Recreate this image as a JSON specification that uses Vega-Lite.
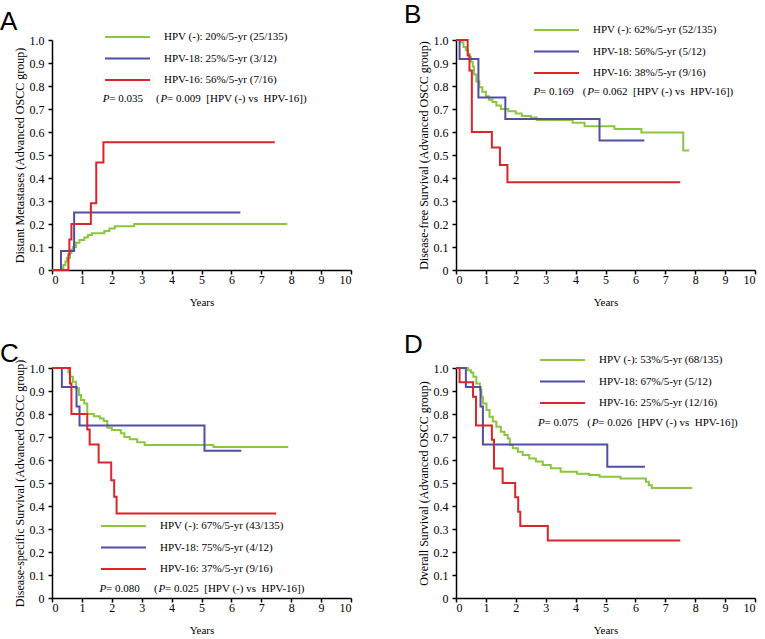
{
  "$schema": "https://vega.github.io/schema/vega-lite/v6.json",
  "background": "white",
  "padding": {"left": 0, "top": 2, "right": 5, "bottom": 5},
  "config": {
    "view": {"stroke": null},
    "axis": {
      "grid": false, "domainColor": "black", "domainWidth": 1.5, "tickColor": "black", "tickWidth": 1.5, "tickSize": 4, "labelOverlap": false,
      "labelFont": "Liberation Serif", "labelFontSize": 12, "labelColor": "black",
      "titleFont": "Liberation Serif", "titleFontSize": 12, "titleFontWeight": "normal", "titleColor": "black"
    },
    "axisX": {"labelPadding": 0, "titlePadding": 11, "titleFontSize": 11},
    "axisY": {"labelPadding": 4, "titlePadding": 3},
    "legend": {
      "orient": "none", "symbolType": "stroke", "symbolSize": 2025, "symbolStrokeWidth": 2, "clipHeight": 20, "rowPadding": 1.5,
      "labelFont": "Liberation Serif", "labelFontSize": 11, "labelColor": "black", "labelOffset": 13, "labelLimit": 400, "title": null
    },
    "title": {"font": "Liberation Sans", "fontSize": 26, "fontWeight": "normal", "color": "black", "anchor": "start", "frame": "group", "dx": -52, "dy": 12},
    "text": {"font": "Liberation Serif", "fontSize": 11, "align": "left", "baseline": "middle", "color": "black"},
    "line": {"interpolate": "step-after", "strokeWidth": 2}
  },
  "datasets": {
    "A": [
      {"series": "HPV (-): 20%/5-yr (25/135)", "t": 0, "v": 0},
      {"series": "HPV (-): 20%/5-yr (25/135)", "t": 0.3, "v": 0.007},
      {"series": "HPV (-): 20%/5-yr (25/135)", "t": 0.38, "v": 0.022},
      {"series": "HPV (-): 20%/5-yr (25/135)", "t": 0.45, "v": 0.037},
      {"series": "HPV (-): 20%/5-yr (25/135)", "t": 0.5, "v": 0.052},
      {"series": "HPV (-): 20%/5-yr (25/135)", "t": 0.6, "v": 0.074},
      {"series": "HPV (-): 20%/5-yr (25/135)", "t": 0.65, "v": 0.089},
      {"series": "HPV (-): 20%/5-yr (25/135)", "t": 0.7, "v": 0.1},
      {"series": "HPV (-): 20%/5-yr (25/135)", "t": 0.8, "v": 0.119},
      {"series": "HPV (-): 20%/5-yr (25/135)", "t": 0.92, "v": 0.13},
      {"series": "HPV (-): 20%/5-yr (25/135)", "t": 1.08, "v": 0.141},
      {"series": "HPV (-): 20%/5-yr (25/135)", "t": 1.2, "v": 0.152},
      {"series": "HPV (-): 20%/5-yr (25/135)", "t": 1.33, "v": 0.16},
      {"series": "HPV (-): 20%/5-yr (25/135)", "t": 1.75, "v": 0.17},
      {"series": "HPV (-): 20%/5-yr (25/135)", "t": 1.92, "v": 0.18},
      {"series": "HPV (-): 20%/5-yr (25/135)", "t": 2.1, "v": 0.19},
      {"series": "HPV (-): 20%/5-yr (25/135)", "t": 2.75, "v": 0.2},
      {"series": "HPV (-): 20%/5-yr (25/135)", "t": 7.87, "v": 0.2},
      {"series": "HPV-18: 25%/5-yr (3/12)", "t": 0, "v": 0},
      {"series": "HPV-18: 25%/5-yr (3/12)", "t": 0.3, "v": 0.083},
      {"series": "HPV-18: 25%/5-yr (3/12)", "t": 0.74, "v": 0.25},
      {"series": "HPV-18: 25%/5-yr (3/12)", "t": 6.3, "v": 0.25},
      {"series": "HPV-16: 56%/5-yr (7/16)", "t": 0, "v": 0},
      {"series": "HPV-16: 56%/5-yr (7/16)", "t": 0.55, "v": 0.067},
      {"series": "HPV-16: 56%/5-yr (7/16)", "t": 0.58, "v": 0.133},
      {"series": "HPV-16: 56%/5-yr (7/16)", "t": 0.65, "v": 0.2},
      {"series": "HPV-16: 56%/5-yr (7/16)", "t": 1.3, "v": 0.29},
      {"series": "HPV-16: 56%/5-yr (7/16)", "t": 1.48, "v": 0.467},
      {"series": "HPV-16: 56%/5-yr (7/16)", "t": 1.72, "v": 0.555},
      {"series": "HPV-16: 56%/5-yr (7/16)", "t": 7.45, "v": 0.555}
    ],
    "B": [
      {"series": "HPV (-): 62%/5-yr (52/135)", "t": 0, "v": 1},
      {"series": "HPV (-): 62%/5-yr (52/135)", "t": 0.15, "v": 0.99},
      {"series": "HPV (-): 62%/5-yr (52/135)", "t": 0.25, "v": 0.97},
      {"series": "HPV (-): 62%/5-yr (52/135)", "t": 0.33, "v": 0.955},
      {"series": "HPV (-): 62%/5-yr (52/135)", "t": 0.4, "v": 0.94},
      {"series": "HPV (-): 62%/5-yr (52/135)", "t": 0.45, "v": 0.925},
      {"series": "HPV (-): 62%/5-yr (52/135)", "t": 0.5, "v": 0.905},
      {"series": "HPV (-): 62%/5-yr (52/135)", "t": 0.56, "v": 0.885},
      {"series": "HPV (-): 62%/5-yr (52/135)", "t": 0.6, "v": 0.85},
      {"series": "HPV (-): 62%/5-yr (52/135)", "t": 0.68, "v": 0.82},
      {"series": "HPV (-): 62%/5-yr (52/135)", "t": 0.78, "v": 0.795},
      {"series": "HPV (-): 62%/5-yr (52/135)", "t": 0.88, "v": 0.775},
      {"series": "HPV (-): 62%/5-yr (52/135)", "t": 1.0, "v": 0.755},
      {"series": "HPV (-): 62%/5-yr (52/135)", "t": 1.1, "v": 0.74},
      {"series": "HPV (-): 62%/5-yr (52/135)", "t": 1.22, "v": 0.73},
      {"series": "HPV (-): 62%/5-yr (52/135)", "t": 1.35, "v": 0.715},
      {"series": "HPV (-): 62%/5-yr (52/135)", "t": 1.5, "v": 0.7},
      {"series": "HPV (-): 62%/5-yr (52/135)", "t": 1.75, "v": 0.69},
      {"series": "HPV (-): 62%/5-yr (52/135)", "t": 2.0, "v": 0.68},
      {"series": "HPV (-): 62%/5-yr (52/135)", "t": 2.2, "v": 0.67},
      {"series": "HPV (-): 62%/5-yr (52/135)", "t": 2.5, "v": 0.663},
      {"series": "HPV (-): 62%/5-yr (52/135)", "t": 2.7, "v": 0.652},
      {"series": "HPV (-): 62%/5-yr (52/135)", "t": 3.9, "v": 0.64},
      {"series": "HPV (-): 62%/5-yr (52/135)", "t": 4.3, "v": 0.625},
      {"series": "HPV (-): 62%/5-yr (52/135)", "t": 5.3, "v": 0.613},
      {"series": "HPV (-): 62%/5-yr (52/135)", "t": 6.2, "v": 0.598},
      {"series": "HPV (-): 62%/5-yr (52/135)", "t": 7.6, "v": 0.52},
      {"series": "HPV (-): 62%/5-yr (52/135)", "t": 7.8, "v": 0.52},
      {"series": "HPV-18: 56%/5-yr (5/12)", "t": 0, "v": 1},
      {"series": "HPV-18: 56%/5-yr (5/12)", "t": 0.12, "v": 0.917},
      {"series": "HPV-18: 56%/5-yr (5/12)", "t": 0.75, "v": 0.75},
      {"series": "HPV-18: 56%/5-yr (5/12)", "t": 1.65, "v": 0.656},
      {"series": "HPV-18: 56%/5-yr (5/12)", "t": 4.8, "v": 0.563},
      {"series": "HPV-18: 56%/5-yr (5/12)", "t": 6.3, "v": 0.563},
      {"series": "HPV-16: 38%/5-yr (9/16)", "t": 0, "v": 1},
      {"series": "HPV-16: 38%/5-yr (9/16)", "t": 0.39, "v": 0.933},
      {"series": "HPV-16: 38%/5-yr (9/16)", "t": 0.45, "v": 0.867},
      {"series": "HPV-16: 38%/5-yr (9/16)", "t": 0.53, "v": 0.6},
      {"series": "HPV-16: 38%/5-yr (9/16)", "t": 1.2, "v": 0.533},
      {"series": "HPV-16: 38%/5-yr (9/16)", "t": 1.47, "v": 0.457},
      {"series": "HPV-16: 38%/5-yr (9/16)", "t": 1.72, "v": 0.381},
      {"series": "HPV-16: 38%/5-yr (9/16)", "t": 7.5, "v": 0.381}
    ],
    "C": [
      {"series": "HPV (-): 67%/5-yr (43/135)", "t": 0, "v": 1},
      {"series": "HPV (-): 67%/5-yr (43/135)", "t": 0.55, "v": 0.98},
      {"series": "HPV (-): 67%/5-yr (43/135)", "t": 0.61, "v": 0.962},
      {"series": "HPV (-): 67%/5-yr (43/135)", "t": 0.7, "v": 0.94},
      {"series": "HPV (-): 67%/5-yr (43/135)", "t": 0.8, "v": 0.912},
      {"series": "HPV (-): 67%/5-yr (43/135)", "t": 0.9, "v": 0.883},
      {"series": "HPV (-): 67%/5-yr (43/135)", "t": 0.97, "v": 0.861},
      {"series": "HPV (-): 67%/5-yr (43/135)", "t": 1.08, "v": 0.846},
      {"series": "HPV (-): 67%/5-yr (43/135)", "t": 1.18, "v": 0.8},
      {"series": "HPV (-): 67%/5-yr (43/135)", "t": 1.4, "v": 0.79},
      {"series": "HPV (-): 67%/5-yr (43/135)", "t": 1.6, "v": 0.78},
      {"series": "HPV (-): 67%/5-yr (43/135)", "t": 1.73, "v": 0.77},
      {"series": "HPV (-): 67%/5-yr (43/135)", "t": 1.85, "v": 0.74},
      {"series": "HPV (-): 67%/5-yr (43/135)", "t": 2.0, "v": 0.73},
      {"series": "HPV (-): 67%/5-yr (43/135)", "t": 2.3, "v": 0.716},
      {"series": "HPV (-): 67%/5-yr (43/135)", "t": 2.42, "v": 0.7},
      {"series": "HPV (-): 67%/5-yr (43/135)", "t": 2.6, "v": 0.69},
      {"series": "HPV (-): 67%/5-yr (43/135)", "t": 2.85, "v": 0.677},
      {"series": "HPV (-): 67%/5-yr (43/135)", "t": 3.1, "v": 0.665},
      {"series": "HPV (-): 67%/5-yr (43/135)", "t": 5.4, "v": 0.656},
      {"series": "HPV (-): 67%/5-yr (43/135)", "t": 7.9, "v": 0.656},
      {"series": "HPV-18: 75%/5-yr (4/12)", "t": 0, "v": 1},
      {"series": "HPV-18: 75%/5-yr (4/12)", "t": 0.33, "v": 0.917},
      {"series": "HPV-18: 75%/5-yr (4/12)", "t": 0.82, "v": 0.833},
      {"series": "HPV-18: 75%/5-yr (4/12)", "t": 0.92, "v": 0.75},
      {"series": "HPV-18: 75%/5-yr (4/12)", "t": 5.1, "v": 0.64},
      {"series": "HPV-18: 75%/5-yr (4/12)", "t": 6.33, "v": 0.64},
      {"series": "HPV-16: 37%/5-yr (9/16)", "t": 0, "v": 1},
      {"series": "HPV-16: 37%/5-yr (9/16)", "t": 0.6, "v": 0.933},
      {"series": "HPV-16: 37%/5-yr (9/16)", "t": 0.65, "v": 0.8},
      {"series": "HPV-16: 37%/5-yr (9/16)", "t": 1.18, "v": 0.733},
      {"series": "HPV-16: 37%/5-yr (9/16)", "t": 1.26, "v": 0.667},
      {"series": "HPV-16: 37%/5-yr (9/16)", "t": 1.56, "v": 0.589},
      {"series": "HPV-16: 37%/5-yr (9/16)", "t": 1.98, "v": 0.512},
      {"series": "HPV-16: 37%/5-yr (9/16)", "t": 2.08, "v": 0.44},
      {"series": "HPV-16: 37%/5-yr (9/16)", "t": 2.16, "v": 0.367},
      {"series": "HPV-16: 37%/5-yr (9/16)", "t": 7.5, "v": 0.367}
    ],
    "D": [
      {"series": "HPV (-): 53%/5-yr (68/135)", "t": 0, "v": 1},
      {"series": "HPV (-): 53%/5-yr (68/135)", "t": 0.4, "v": 0.99},
      {"series": "HPV (-): 53%/5-yr (68/135)", "t": 0.5, "v": 0.98},
      {"series": "HPV (-): 53%/5-yr (68/135)", "t": 0.58, "v": 0.962},
      {"series": "HPV (-): 53%/5-yr (68/135)", "t": 0.68, "v": 0.933},
      {"series": "HPV (-): 53%/5-yr (68/135)", "t": 0.8, "v": 0.904},
      {"series": "HPV (-): 53%/5-yr (68/135)", "t": 0.85, "v": 0.875},
      {"series": "HPV (-): 53%/5-yr (68/135)", "t": 0.9, "v": 0.846},
      {"series": "HPV (-): 53%/5-yr (68/135)", "t": 1.02, "v": 0.817},
      {"series": "HPV (-): 53%/5-yr (68/135)", "t": 1.12, "v": 0.788},
      {"series": "HPV (-): 53%/5-yr (68/135)", "t": 1.23, "v": 0.767},
      {"series": "HPV (-): 53%/5-yr (68/135)", "t": 1.35, "v": 0.745},
      {"series": "HPV (-): 53%/5-yr (68/135)", "t": 1.5, "v": 0.723},
      {"series": "HPV (-): 53%/5-yr (68/135)", "t": 1.62, "v": 0.709},
      {"series": "HPV (-): 53%/5-yr (68/135)", "t": 1.73, "v": 0.694},
      {"series": "HPV (-): 53%/5-yr (68/135)", "t": 1.8, "v": 0.665},
      {"series": "HPV (-): 53%/5-yr (68/135)", "t": 1.9, "v": 0.651},
      {"series": "HPV (-): 53%/5-yr (68/135)", "t": 2.07, "v": 0.636},
      {"series": "HPV (-): 53%/5-yr (68/135)", "t": 2.23, "v": 0.622},
      {"series": "HPV (-): 53%/5-yr (68/135)", "t": 2.45, "v": 0.607},
      {"series": "HPV (-): 53%/5-yr (68/135)", "t": 2.67, "v": 0.593},
      {"series": "HPV (-): 53%/5-yr (68/135)", "t": 2.9, "v": 0.578},
      {"series": "HPV (-): 53%/5-yr (68/135)", "t": 3.17, "v": 0.564},
      {"series": "HPV (-): 53%/5-yr (68/135)", "t": 3.5, "v": 0.549},
      {"series": "HPV (-): 53%/5-yr (68/135)", "t": 4.05, "v": 0.54},
      {"series": "HPV (-): 53%/5-yr (68/135)", "t": 4.45, "v": 0.535},
      {"series": "HPV (-): 53%/5-yr (68/135)", "t": 4.8, "v": 0.527},
      {"series": "HPV (-): 53%/5-yr (68/135)", "t": 5.5, "v": 0.52},
      {"series": "HPV (-): 53%/5-yr (68/135)", "t": 6.35, "v": 0.505},
      {"series": "HPV (-): 53%/5-yr (68/135)", "t": 6.45, "v": 0.49},
      {"series": "HPV (-): 53%/5-yr (68/135)", "t": 6.55, "v": 0.478},
      {"series": "HPV (-): 53%/5-yr (68/135)", "t": 7.9, "v": 0.478},
      {"series": "HPV-18: 67%/5-yr (5/12)", "t": 0, "v": 1},
      {"series": "HPV-18: 67%/5-yr (5/12)", "t": 0.33, "v": 0.917},
      {"series": "HPV-18: 67%/5-yr (5/12)", "t": 0.82, "v": 0.833},
      {"series": "HPV-18: 67%/5-yr (5/12)", "t": 0.9, "v": 0.667},
      {"series": "HPV-18: 67%/5-yr (5/12)", "t": 5.06, "v": 0.571},
      {"series": "HPV-18: 67%/5-yr (5/12)", "t": 6.32, "v": 0.571},
      {"series": "HPV-16: 25%/5-yr (12/16)", "t": 0, "v": 1},
      {"series": "HPV-16: 25%/5-yr (12/16)", "t": 0.12, "v": 0.938},
      {"series": "HPV-16: 25%/5-yr (12/16)", "t": 0.57, "v": 0.875},
      {"series": "HPV-16: 25%/5-yr (12/16)", "t": 0.67, "v": 0.75},
      {"series": "HPV-16: 25%/5-yr (12/16)", "t": 1.2, "v": 0.688},
      {"series": "HPV-16: 25%/5-yr (12/16)", "t": 1.27, "v": 0.563},
      {"series": "HPV-16: 25%/5-yr (12/16)", "t": 1.56, "v": 0.5},
      {"series": "HPV-16: 25%/5-yr (12/16)", "t": 1.98, "v": 0.438},
      {"series": "HPV-16: 25%/5-yr (12/16)", "t": 2.08, "v": 0.375},
      {"series": "HPV-16: 25%/5-yr (12/16)", "t": 2.15, "v": 0.313},
      {"series": "HPV-16: 25%/5-yr (12/16)", "t": 3.07, "v": 0.25},
      {"series": "HPV-16: 25%/5-yr (12/16)", "t": 7.5, "v": 0.25}
    ]
  },
  "bounds": "flush",
  "columns": 2,
  "spacing": {"row": 98, "column": 105},
  "resolve": {"scale": {"color": "independent"}, "legend": {"color": "independent"}},
  "concat": [
    {
      "width": 299, "height": 230,
      "title": {"text": "A"},
      "layer": [
        {
          "data": {"name": "A"},
          "mark": {"type": "line"},
          "encoding": {
            "x": {"field": "t", "type": "quantitative", "scale": {"domain": [0, 10]}, "axis": {"values": [0,1,2,3,4,5,6,7,8,9,10], "tickCount": 11, "labelOverlap": false, "format": "d", "title": "Years"}},
            "y": {"field": "v", "type": "quantitative", "scale": {"domain": [0, 1]}, "axis": {"values": [0,0.1,0.2,0.3,0.4,0.5,0.6,0.7,0.8,0.9,1], "tickCount": 11, "labelOverlap": false, "labelExpr": "datum.value == 0 ? '0' : format(datum.value, '.1f')", "title": "Distant Metastases (Advanced OSCC group)"}},
            "color": {"field": "series", "type": "nominal", "sort": null,
              "scale": {"domain": ["HPV (-): 20%/5-yr (25/135)", "HPV-18: 25%/5-yr (3/12)", "HPV-16: 56%/5-yr (7/16)"], "range": ["#8cc63f", "#4f4fa3", "#d9262b"]},
              "legend": {"legendX": 52, "legendY": -13}}
          }
        },
        {"data": {"values": [{}]}, "mark": {"type": "text", "fontStyle": "italic"}, "encoding": {"x": {"datum": 1.7}, "y": {"datum": 0.743}, "text": {"value": "P"}}},
        {"data": {"values": [{}]}, "mark": {"type": "text"}, "encoding": {"x": {"datum": 1.92}, "y": {"datum": 0.743}, "text": {"value": "= 0.035"}}},
        {"data": {"values": [{}]}, "mark": {"type": "text", "align": "right"}, "encoding": {"x": {"datum": 3.6}, "y": {"datum": 0.743}, "text": {"value": "("}}},
        {"data": {"values": [{}]}, "mark": {"type": "text", "fontStyle": "italic"}, "encoding": {"x": {"datum": 3.63}, "y": {"datum": 0.743}, "text": {"value": "P"}}},
        {"data": {"values": [{}]}, "mark": {"type": "text"}, "encoding": {"x": {"datum": 3.85}, "y": {"datum": 0.743}, "text": {"value": "= 0.009\u00a0\u00a0[HPV (-) vs\u00a0\u00a0HPV-16])"}}}
      ]
    },
    {
      "width": 299, "height": 230,
      "title": {"text": "B"},
      "layer": [
        {
          "data": {"name": "B"},
          "mark": {"type": "line"},
          "encoding": {
            "x": {"field": "t", "type": "quantitative", "scale": {"domain": [0, 10]}, "axis": {"values": [0,1,2,3,4,5,6,7,8,9,10], "tickCount": 11, "labelOverlap": false, "format": "d", "title": "Years"}},
            "y": {"field": "v", "type": "quantitative", "scale": {"domain": [0, 1]}, "axis": {"values": [0,0.1,0.2,0.3,0.4,0.5,0.6,0.7,0.8,0.9,1], "tickCount": 11, "labelOverlap": false, "labelExpr": "datum.value == 0 ? '0' : format(datum.value, '.1f')", "title": "Disease-free Survival (Advanced OSCC group)"}},
            "color": {"field": "series", "type": "nominal", "sort": null,
              "scale": {"domain": ["HPV (-): 62%/5-yr (52/135)", "HPV-18: 56%/5-yr (5/12)", "HPV-16: 38%/5-yr (9/16)"], "range": ["#8cc63f", "#4f4fa3", "#d9262b"]},
              "legend": {"legendX": 77, "legendY": -20}}
          }
        },
        {"data": {"values": [{}]}, "mark": {"type": "text", "fontStyle": "italic"}, "encoding": {"x": {"datum": 2.59}, "y": {"datum": 0.775}, "text": {"value": "P"}}},
        {"data": {"values": [{}]}, "mark": {"type": "text"}, "encoding": {"x": {"datum": 2.81}, "y": {"datum": 0.775}, "text": {"value": "= 0.169"}}},
        {"data": {"values": [{}]}, "mark": {"type": "text", "align": "right"}, "encoding": {"x": {"datum": 4.36}, "y": {"datum": 0.775}, "text": {"value": "("}}},
        {"data": {"values": [{}]}, "mark": {"type": "text", "fontStyle": "italic"}, "encoding": {"x": {"datum": 4.39}, "y": {"datum": 0.775}, "text": {"value": "P"}}},
        {"data": {"values": [{}]}, "mark": {"type": "text"}, "encoding": {"x": {"datum": 4.61}, "y": {"datum": 0.775}, "text": {"value": "= 0.062\u00a0\u00a0[HPV (-) vs\u00a0\u00a0HPV-16])"}}}
      ]
    },
    {
      "width": 299, "height": 230,
      "title": {"text": "C"},
      "layer": [
        {
          "data": {"name": "C"},
          "mark": {"type": "line"},
          "encoding": {
            "x": {"field": "t", "type": "quantitative", "scale": {"domain": [0, 10]}, "axis": {"values": [0,1,2,3,4,5,6,7,8,9,10], "tickCount": 11, "labelOverlap": false, "format": "d", "title": "Years"}},
            "y": {"field": "v", "type": "quantitative", "scale": {"domain": [0, 1]}, "axis": {"values": [0,0.1,0.2,0.3,0.4,0.5,0.6,0.7,0.8,0.9,1], "tickCount": 11, "labelOverlap": false, "labelExpr": "datum.value == 0 ? '0' : format(datum.value, '.1f')", "title": "Disease-specific Survival (Advanced OSCC group)"}},
            "color": {"field": "series", "type": "nominal", "sort": null,
              "scale": {"domain": ["HPV (-): 67%/5-yr (43/135)", "HPV-18: 75%/5-yr (4/12)", "HPV-16: 37%/5-yr (9/16)"], "range": ["#8cc63f", "#4f4fa3", "#d9262b"]},
              "legend": {"legendX": 48, "legendY": 148}}
          }
        },
        {"data": {"values": [{}]}, "mark": {"type": "text", "fontStyle": "italic"}, "encoding": {"x": {"datum": 1.59}, "y": {"datum": 0.04}, "text": {"value": "P"}}},
        {"data": {"values": [{}]}, "mark": {"type": "text"}, "encoding": {"x": {"datum": 1.81}, "y": {"datum": 0.04}, "text": {"value": "= 0.080"}}},
        {"data": {"values": [{}]}, "mark": {"type": "text", "align": "right"}, "encoding": {"x": {"datum": 3.53}, "y": {"datum": 0.04}, "text": {"value": "("}}},
        {"data": {"values": [{}]}, "mark": {"type": "text", "fontStyle": "italic"}, "encoding": {"x": {"datum": 3.56}, "y": {"datum": 0.04}, "text": {"value": "P"}}},
        {"data": {"values": [{}]}, "mark": {"type": "text"}, "encoding": {"x": {"datum": 3.78}, "y": {"datum": 0.04}, "text": {"value": "= 0.025\u00a0\u00a0[HPV (-) vs\u00a0\u00a0HPV-16])"}}}
      ]
    },
    {
      "width": 299, "height": 230,
      "title": {"text": "D"},
      "layer": [
        {
          "data": {"name": "D"},
          "mark": {"type": "line"},
          "encoding": {
            "x": {"field": "t", "type": "quantitative", "scale": {"domain": [0, 10]}, "axis": {"values": [0,1,2,3,4,5,6,7,8,9,10], "tickCount": 11, "labelOverlap": false, "format": "d", "title": "Years"}},
            "y": {"field": "v", "type": "quantitative", "scale": {"domain": [0, 1]}, "axis": {"values": [0,0.1,0.2,0.3,0.4,0.5,0.6,0.7,0.8,0.9,1], "tickCount": 11, "labelOverlap": false, "labelExpr": "datum.value == 0 ? '0' : format(datum.value, '.1f')", "title": "Overall Survival (Advanced OSCC group)"}},
            "color": {"field": "series", "type": "nominal", "sort": null,
              "scale": {"domain": ["HPV (-): 53%/5-yr (68/135)", "HPV-18: 67%/5-yr (5/12)", "HPV-16: 25%/5-yr (12/16)"], "range": ["#8cc63f", "#4f4fa3", "#d9262b"]},
              "legend": {"legendX": 83, "legendY": -18}}
          }
        },
        {"data": {"values": [{}]}, "mark": {"type": "text", "fontStyle": "italic"}, "encoding": {"x": {"datum": 2.74}, "y": {"datum": 0.76}, "text": {"value": "P"}}},
        {"data": {"values": [{}]}, "mark": {"type": "text"}, "encoding": {"x": {"datum": 2.96}, "y": {"datum": 0.76}, "text": {"value": "= 0.075"}}},
        {"data": {"values": [{}]}, "mark": {"type": "text", "align": "right"}, "encoding": {"x": {"datum": 4.51}, "y": {"datum": 0.76}, "text": {"value": "("}}},
        {"data": {"values": [{}]}, "mark": {"type": "text", "fontStyle": "italic"}, "encoding": {"x": {"datum": 4.54}, "y": {"datum": 0.76}, "text": {"value": "P"}}},
        {"data": {"values": [{}]}, "mark": {"type": "text"}, "encoding": {"x": {"datum": 4.76}, "y": {"datum": 0.76}, "text": {"value": "= 0.026\u00a0\u00a0[HPV (-) vs\u00a0\u00a0HPV-16])"}}}
      ]
    }
  ]
}
